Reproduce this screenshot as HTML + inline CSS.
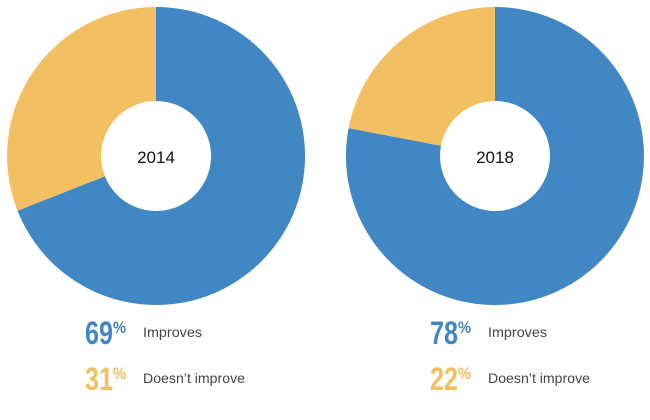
<!DOCTYPE html>
<html><head><meta charset="utf-8"><style>
body{margin:0;background:#fff;width:650px;height:415px;overflow:hidden;font-family:"Liberation Sans",sans-serif}
</style></head><body>
<svg width="650" height="415" xmlns="http://www.w3.org/2000/svg">
<path d="M156,7 A149,149 0 1 1 17.5,210.8 L104.9,176.2 A55,55 0 1 0 156,101 Z" fill="#4187c3"/>
<path d="M17.5,210.8 A149,149 0 0 1 156,7 L156,101 A55,55 0 0 0 104.9,176.2 Z" fill="#f2c063"/>
<path d="M495,7 A149,149 0 1 1 348.6,128.1 L441,145.7 A55,55 0 1 0 495,101 Z" fill="#4187c3"/>
<path d="M348.6,128.1 A149,149 0 0 1 495,7 L495,101 A55,55 0 0 0 441,145.7 Z" fill="#f2c063"/>
<text x="156" y="163" font-size="17" text-anchor="middle" fill="#111">2014</text>
<text x="495" y="163" font-size="17" text-anchor="middle" fill="#111">2018</text>
<g font-family="'Liberation Sans Narrow','Liberation Sans',sans-serif" font-weight="bold">
<text x="85" y="344" font-size="32" fill="#4187c3" textLength="28" lengthAdjust="spacingAndGlyphs">69</text>
<text x="113" y="333" font-size="17" fill="#4187c3" textLength="13" lengthAdjust="spacingAndGlyphs">%</text>
<text x="85" y="390" font-size="32" fill="#f2c063" textLength="28" lengthAdjust="spacingAndGlyphs">31</text>
<text x="113" y="379" font-size="17" fill="#f2c063" textLength="13" lengthAdjust="spacingAndGlyphs">%</text>
<text x="430" y="344" font-size="32" fill="#4187c3" textLength="28" lengthAdjust="spacingAndGlyphs">78</text>
<text x="458" y="333" font-size="17" fill="#4187c3" textLength="13" lengthAdjust="spacingAndGlyphs">%</text>
<text x="430" y="390" font-size="32" fill="#f2c063" textLength="28" lengthAdjust="spacingAndGlyphs">22</text>
<text x="458" y="379" font-size="17" fill="#f2c063" textLength="13" lengthAdjust="spacingAndGlyphs">%</text>
</g>
<g font-size="14" fill="#444">
<text x="143" y="337" textLength="59" lengthAdjust="spacingAndGlyphs">Improves</text>
<text x="143" y="383" textLength="102" lengthAdjust="spacingAndGlyphs">Doesn’t improve</text>
<text x="488" y="337" textLength="59" lengthAdjust="spacingAndGlyphs">Improves</text>
<text x="488" y="383" textLength="102" lengthAdjust="spacingAndGlyphs">Doesn’t improve</text>
</g>
</svg>
</body></html>
